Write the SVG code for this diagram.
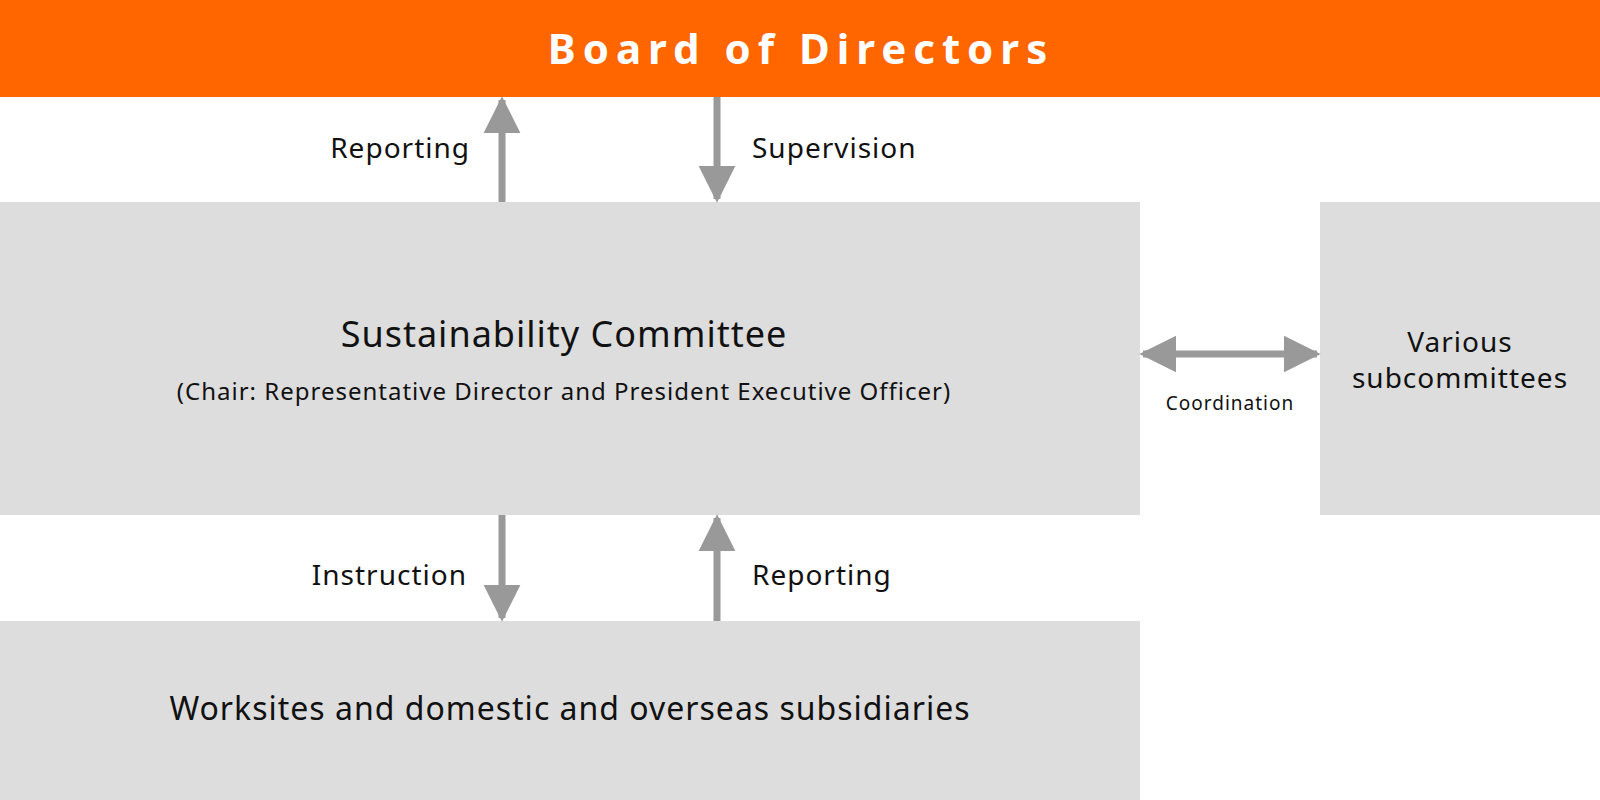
<svg xmlns="http://www.w3.org/2000/svg" width="1600" height="800" viewBox="0 0 1600 800">
<style>
text{font-family:"Noto Sans","Open Sans",sans-serif;fill:#111;letter-spacing:1px}
.box{fill:#dddddd}
.lbl{font-size:28px}
.ln{stroke:#999;stroke-width:7;fill:none}
</style>
<defs>
<marker id="ah" viewBox="0 0 10 10" refX="9" refY="5" markerWidth="5.3" markerHeight="5.3" orient="auto-start-reverse" markerUnits="strokeWidth">
<path d="M0,0 L10,5 L0,10 Z" fill="#999"/>
</marker>
</defs>
<rect x="0" y="0" width="1600" height="800" fill="#fff"/>
<g id="board"><rect x="0" y="0" width="1600" height="97" fill="#ff6600"/>
<text x="801" y="64" text-anchor="middle" font-size="42" font-weight="bold" style="fill:#fff;letter-spacing:7px">Board of Directors</text></g>
<g id="committee"><rect class="box" x="0" y="202" width="1140" height="313"/>
<text x="564" y="347" text-anchor="middle" font-size="36">Sustainability Committee</text>
<text x="564" y="400" text-anchor="middle" font-size="24">(Chair: Representative Director and President Executive Officer)</text></g>
<g id="subcommittees"><rect class="box" x="1320" y="202" width="280" height="313"/>
<text x="1460" y="352" text-anchor="middle" font-size="28">Various</text>
<text x="1460" y="388" text-anchor="middle" font-size="28">subcommittees</text></g>
<g id="worksites"><rect class="box" x="0" y="621" width="1140" height="179"/>
<text x="570" y="720" text-anchor="middle" font-size="32">Worksites and domestic and overseas subsidiaries</text></g>
<g id="connectors">
<line class="ln" x1="502" y1="202" x2="502" y2="100" marker-end="url(#ah)"/>
<line class="ln" x1="717" y1="97" x2="717" y2="199" marker-end="url(#ah)"/>
<line class="ln" x1="502" y1="515" x2="502" y2="618" marker-end="url(#ah)"/>
<line class="ln" x1="717" y1="621" x2="717" y2="518" marker-end="url(#ah)"/>
<line class="ln" x1="1143" y1="354" x2="1317" y2="354" marker-start="url(#ah)" marker-end="url(#ah)"/>
<text class="lbl" x="470" y="158" text-anchor="end">Reporting</text>
<text class="lbl" x="752" y="158">Supervision</text>
<text class="lbl" x="467" y="585" text-anchor="end">Instruction</text>
<text class="lbl" x="752" y="585">Reporting</text>
<text x="1230" y="410" text-anchor="middle" font-size="19">Coordination</text>
</g>
</svg>
